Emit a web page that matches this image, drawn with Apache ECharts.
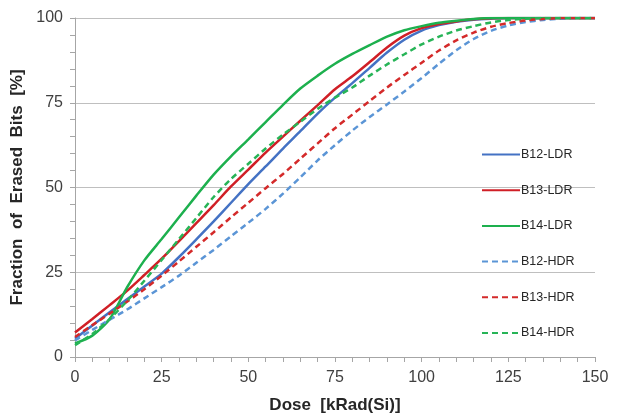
<!DOCTYPE html>
<html>
<head>
<meta charset="utf-8">
<script src="https://cdn.jsdelivr.net/npm/echarts@6/dist/echarts.min.js"></script>
<style>html,body{margin:0;padding:0;background:#fff;}#c{width:617px;height:419px;}</style>
</head>
<body>
<div id="c"></div>
<script>
const dose = [0,5,10,15,20,25,30,35,40,45,50,55,60,65,70,75,80,85,90,95,100,105,110,115,120,125,130,135,140,145,150];
const b12LDR = [5.4,9.3,13.2,17.0,20.8,24.6,29.5,34.7,40.0,45.5,51.0,56.2,61.5,66.6,71.8,76.5,80.8,85.3,89.8,93.6,96.3,97.9,98.9,99.5,99.8,100,100,100,100,100,100];
const b13LDR = [7.2,11.2,15.3,19.5,24.2,29.0,34.2,39.5,44.8,50.3,55.3,60.3,65.0,69.7,74.3,79.0,82.8,87.0,91.3,94.8,97.0,98.2,99.0,99.6,99.9,100,100,100,100,100,100];
const b14LDR = [4.0,6.3,11.2,20.5,28.5,34.8,41.2,47.6,53.8,59.2,64.2,69.3,74.4,79.2,83.0,86.5,89.4,92.0,94.5,96.4,97.6,98.6,99.2,99.7,100,100,100,100,100,100,100];
const b12HDR = [4.9,8.0,11.0,14.0,17.3,20.6,24.0,27.8,31.6,35.6,39.6,43.7,48.2,53.0,58.0,62.5,66.8,70.8,74.5,78.3,82.3,86.5,90.5,93.8,96.2,97.8,98.8,99.4,99.8,100,100];
const b13HDR = [5.9,9.4,12.8,16.3,20.0,24.0,28.2,32.5,36.8,41.2,45.5,49.8,54.0,58.5,63.0,67.5,71.5,75.5,79.5,83.2,86.8,90.4,93.4,95.7,97.4,98.5,99.3,99.7,100,100,100];
const b14HDR = [3.5,6.8,11.2,16.5,22.5,28.6,34.8,41.0,47.2,52.5,57.0,61.5,65.6,69.4,73.2,76.5,79.5,83.0,86.3,89.3,92.2,94.5,96.3,97.6,98.7,99.4,99.8,100,100,100,100];
const seriesNames = ['B12-LDR','B13-LDR','B14-LDR','B12-HDR','B13-HDR','B14-HDR'];
const xTicks = [0,25,50,75,100,125,150];
const yTicks = [0,25,50,75,100];

const allData = [b12LDR,b13LDR,b14LDR,b12HDR,b13HDR,b14HDR];
const colors = ['#4472C4','#D01F26','#1DB04E','#5B95D6','#D42A2A','#27B457'];
const dashes = ['solid','solid','solid',[6,4],[6,4],[6,4]];

const chart = echarts.init(document.getElementById('c'), null, {renderer:'canvas'});
chart.setOption({
  animation:false,
  backgroundColor:'#fff',
  grid:{left:75,right:22,top:18,bottom:57,containLabel:false},
  legend:{
    orient:'vertical', left:476, top:143,
    itemWidth:38, itemHeight:14, itemGap:22.7,
    itemStyle:{opacity:0},
    textStyle:{fontFamily:'Liberation Sans, Arial, sans-serif',fontSize:12.5,color:'#262626',padding:[0,0,0,-4]},
    data:seriesNames
  },
  xAxis:{
    type:'value', min:xTicks[0], max:xTicks[xTicks.length-1], interval:25,
    name:'Dose  [kRad(Si)]', nameLocation:'middle', nameGap:40,
    nameTextStyle:{fontFamily:'Liberation Sans, Arial, sans-serif',fontSize:17,fontWeight:'bold',color:'#262626'},
    axisLine:{show:true,lineStyle:{color:'#A6A6A6',width:1}},
    axisTick:{show:true,inside:false,length:5,lineStyle:{color:'#A6A6A6'}},
    minorTick:{show:true,splitNumber:5,length:5,lineStyle:{color:'#A6A6A6'}},
    axisLabel:{fontFamily:'Liberation Sans, Arial, sans-serif',fontSize:16,color:'#404040',margin:13},
    splitLine:{show:false}
  },
  yAxis:{
    type:'value', min:yTicks[0], max:yTicks[yTicks.length-1], interval:25,
    name:'Fraction  of  Erased  Bits  [%]', nameLocation:'middle', nameGap:38,
    nameTextStyle:{fontFamily:'Liberation Sans, Arial, sans-serif',fontSize:17,fontWeight:'bold',color:'#262626'},
    axisLine:{show:true,lineStyle:{color:'#A6A6A6',width:1}},
    axisTick:{show:true,inside:false,length:5,lineStyle:{color:'#A6A6A6'}},
    minorTick:{show:true,splitNumber:5,length:5,lineStyle:{color:'#A6A6A6'}},
    axisLabel:{fontFamily:'Liberation Sans, Arial, sans-serif',fontSize:16,color:'#404040',margin:12},
    splitLine:{show:true,lineStyle:{color:'#BFBFBF',width:1}}
  },
  series: seriesNames.map((n,i)=>({
    name:n, type:'line', showSymbol:false, symbol:'none',
    smooth:0.25,
    data: dose.map((d,k)=>[d, allData[i][k]]),
    lineStyle:{color:colors[i], width:2.5, type:dashes[i]},
    itemStyle:{color:colors[i]}
  }))
});
</script>
</body>
</html>
